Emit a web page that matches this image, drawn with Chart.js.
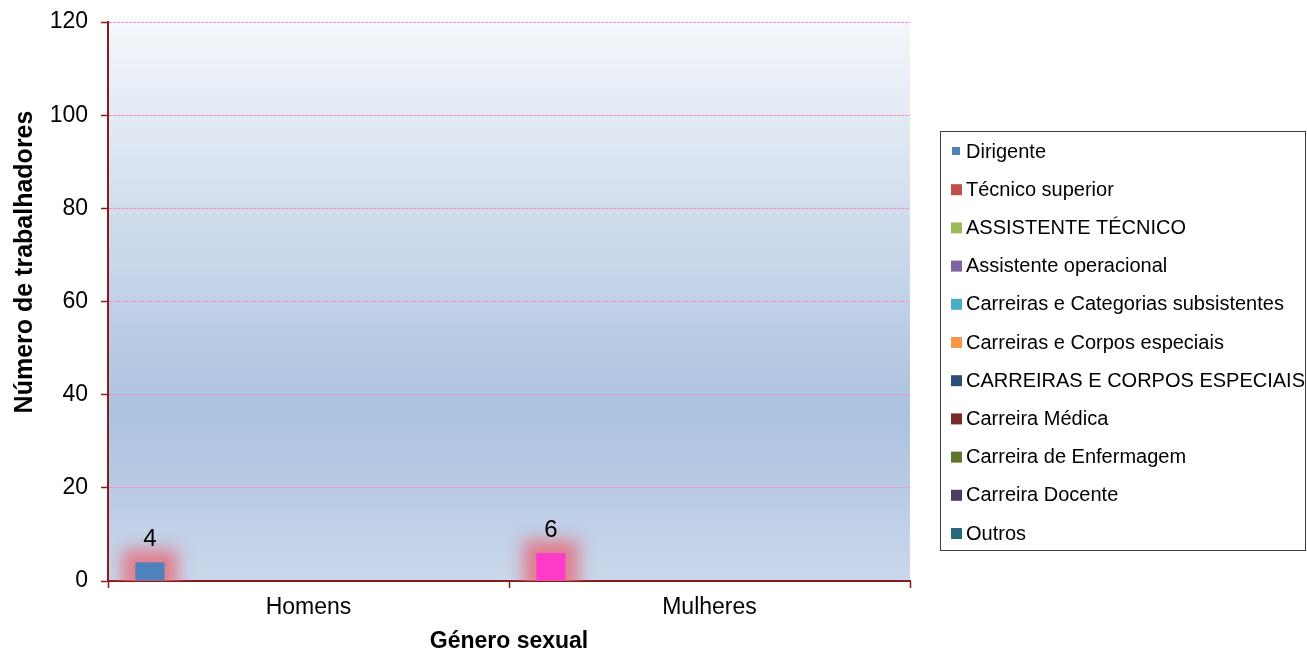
<!DOCTYPE html>
<html>
<head>
<meta charset="utf-8">
<script src="https://cdn.jsdelivr.net/npm/chart.js@4.4.1/dist/chart.umd.min.js"></script>
<style>
  html, body { margin: 0; padding: 0; background: #fff; }
  #wrap { width: 1307px; height: 657px; position: relative; }
</style>
</head>
<body>
<div id="wrap"><canvas id="grafico"></canvas></div>
<script>
// categorias e séries
const categories = ['Homens', 'Mulheres'];
const seriesNames = [
  'Dirigente', 'Técnico superior', 'ASSISTENTE TÉCNICO', 'Assistente operacional',
  'Carreiras e Categorias subsistentes', 'Carreiras e Corpos especiais',
  'CARREIRAS E CORPOS ESPECIAIS', 'Carreira Médica', 'Carreira de Enfermagem',
  'Carreira Docente', 'Outros'
];
const dirigente = [4, 6];
const tecnicoSuperior = [null, null];
const assistenteTecnico = [null, null];
const assistenteOperacional = [null, null];
const carreirasSubsistentes = [null, null];
const carreirasCorpos = [null, null];
const carreirasCorposMaiusc = [null, null];
const carreiraMedica = [null, null];
const carreiraEnfermagem = [null, null];
const carreiraDocente = [null, null];
const outros = [null, null];
const yTicks = [0, 20, 40, 60, 80, 100, 120];

const seriesColors = ['#4F81BD', '#C0504D', '#9BBB59', '#8064A2', '#4BACC6', '#F79646',
  '#2C4D75', '#772C2A', '#5F7530', '#4D3B62', '#276A7C'];
const seriesData = [dirigente, tecnicoSuperior, assistenteTecnico, assistenteOperacional,
  carreirasSubsistentes, carreirasCorpos, carreirasCorposMaiusc, carreiraMedica,
  carreiraEnfermagem, carreiraDocente, outros];

const FONT = "'Liberation Sans', Arial, sans-serif";
const AXIS_RED = '#8B1A1A';

const datasets = seriesNames.map((name, i) => ({
  label: name,
  data: seriesData[i],
  backgroundColor: i === 0 ? ['#4F81BD', '#FF3BCB'] : seriesColors[i],
  categoryPercentage: 0.87,
  barPercentage: 0.92
}));

// fundo em gradiente da área do gráfico
const plotBackground = {
  id: 'plotBackground',
  beforeDraw(chart) {
    const { ctx, chartArea: a } = chart;
    const g = ctx.createLinearGradient(0, a.top, 0, a.bottom);
    g.addColorStop(0, '#F4F7FB');
    g.addColorStop(0.7, '#ACC2DF');
    g.addColorStop(1, '#C9D7EB');
    ctx.save();
    ctx.fillStyle = g;
    ctx.fillRect(a.left, a.top, a.right - a.left, a.bottom - a.top);
    ctx.restore();
  }
};

// brilho avermelhado por trás das barras
const glow = {
  id: 'glow',
  beforeDatasetsDraw(chart) {
    const { ctx, chartArea: a } = chart;
    ctx.save();
    ctx.beginPath();
    ctx.rect(a.left, a.top, a.right - a.left, a.bottom - a.top);
    ctx.clip();
    ctx.filter = 'blur(8px)';
    ctx.fillStyle = 'rgba(228, 110, 126, 0.85)';
    chart.data.datasets.forEach((ds, i) => {
      chart.getDatasetMeta(i).data.forEach((bar, j) => {
        if (ds.data[j] == null) return;
        const x0 = bar.x - bar.width / 2;
        ctx.fillRect(x0 - 13, bar.y - 13, bar.width + 26, bar.base - bar.y + 26);
      });
    });
    ctx.restore();
  }
};

// rótulos de valor por cima das barras
const valueLabels = {
  id: 'valueLabels',
  afterDatasetsDraw(chart) {
    const ctx = chart.ctx;
    ctx.save();
    ctx.font = '24px ' + FONT;
    ctx.fillStyle = '#000';
    ctx.textAlign = 'center';
    ctx.textBaseline = 'alphabetic';
    chart.data.datasets.forEach((ds, i) => {
      chart.getDatasetMeta(i).data.forEach((bar, j) => {
        if (ds.data[j] == null) return;
        ctx.fillText(String(ds.data[j]), bar.x, bar.y - 16);
      });
    });
    ctx.restore();
  }
};

// legenda com moldura e título do eixo Y
const sideLegend = {
  id: 'sideLegend',
  afterDraw(chart) {
    const ctx = chart.ctx;
    const a = chart.chartArea;
    ctx.save();
    // título do eixo Y
    ctx.font = 'bold 25px ' + FONT;
    ctx.fillStyle = '#000';
    ctx.textAlign = 'center';
    ctx.textBaseline = 'middle';
    ctx.translate(25, 262);
    ctx.rotate(-Math.PI / 2);
    ctx.fillText('Número de trabalhadores', 0, 0);
    ctx.restore();

    ctx.save();
    const boxLeft = a.right + 30.5, boxTop = 131.5, boxRight = chart.width - 1.5, boxBottom = 550.5;
    ctx.strokeStyle = '#404040';
    ctx.lineWidth = 1;
    ctx.strokeRect(boxLeft, boxTop, boxRight - boxLeft, boxBottom - boxTop);
    ctx.font = '20px ' + FONT;
    ctx.textAlign = 'left';
    ctx.textBaseline = 'middle';
    chart.data.datasets.forEach((ds, i) => {
      const cy = 151 + i * 38.2;
      ctx.fillStyle = seriesColors[i];
      if (i === 0) {
        ctx.fillRect(952, cy - 4, 8, 8);
      } else {
        ctx.fillRect(951, cy - 5, 11, 11);
      }
      ctx.fillStyle = '#000';
      ctx.fillText(ds.label, 966, cy + 1);
    });
    ctx.restore();
  }
};

new Chart(document.getElementById('grafico'), {
  type: 'bar',
  data: { labels: categories, datasets: datasets },
  options: {
    responsive: true,
    maintainAspectRatio: false,
    animation: false,
    layout: { padding: { top: 22, left: 0, right: 397, bottom: 0 } },
    plugins: {
      legend: { display: false },
      tooltip: { enabled: false }
    },
    scales: {
      x: {
        offset: true,
        grid: {
          offset: true,
          drawOnChartArea: false,
          tickLength: 7,
          tickColor: AXIS_RED,
          tickWidth: 1.5
        },
        border: { color: AXIS_RED, width: 2 },
        ticks: { color: '#000', font: { family: FONT, size: 23 }, padding: 6 },
        title: {
          display: true,
          text: 'Género sexual',
          color: '#000',
          font: { family: FONT, size: 23, weight: 'bold' },
          padding: { top: 0, bottom: 2 }
        },
        afterFit(scale) { scale.height = 76; }
      },
      y: {
        min: yTicks[0],
        max: yTicks[yTicks.length - 1],
        ticks: {
          stepSize: yTicks[1] - yTicks[0],
          color: '#000',
          font: { family: FONT, size: 23 },
          padding: 13
        },
        grid: {
          color: '#FF88C8',
          lineWidth: 1,
          tickLength: 7,
          tickColor: AXIS_RED,
          tickWidth: 1.5,
          tickBorderDash: []
        },
        border: { color: AXIS_RED, width: 2, dash: [3, 1] },
        afterFit(scale) {
          scale.width = 108;
          scale.paddingTop = 0;
          scale.paddingBottom = 0;
        }
      }
    }
  },
  plugins: [plotBackground, glow, valueLabels, sideLegend]
});
</script>
</body>
</html>
